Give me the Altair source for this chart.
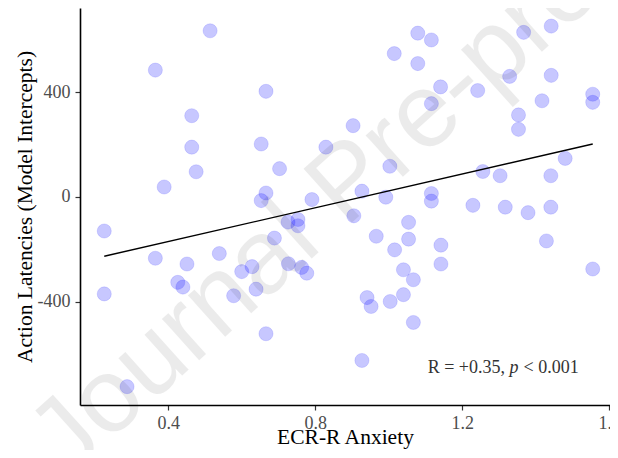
import altair as alt
import pandas as pd

# ECR-R Anxiety (x) and Action Latencies (Model Intercepts) (y)
anxiety = [0.226, 0.226, 0.288, 0.365, 0.389, 0.464, 0.464, 0.476, 0.514, 0.666,
           0.653, 0.703, 0.829, 0.666, 0.653, 0.791, 0.903, 1.079, 1.116, 1.015,
           1.079, 1.141, 1.116, 1.242, 1.003, 0.927, 0.992, 1.116, 1.116, 1.256,
           1.229, 1.367, 1.442, 1.329, 1.442, 1.555, 1.555, 1.417, 1.353, 1.353,
           1.480, 1.303, 1.441, 1.317, 1.379, 1.441, 1.429, 1.555, 0.905, 0.966,
           1.054, 1.016, 1.054, 1.142, 1.142, 1.040, 1.067, 0.941, 0.952, 1.004,
           1.040, 1.067, 0.927, 0.726, 0.753, 0.753, 0.689, 0.539, 0.600, 0.628,
           0.727, 0.763, 0.777, 0.578, 0.639, 0.666, 0.365, 0.451, 0.426, 0.440]
latency = [-130, -370, -724, 484, 38, 310, 190, 96, 634, 403,
           202, 108, 190, 15, -14, -10, 272, 625, 599, 547,
           509, 420, 356, 406, 117, 22, -1, 13, -16, 97,
           -32, 628, 652, 460, 464, 392, 361, 367, 313, 258,
           147, 81, 81, -39, -60, -39, -168, -275, -72, -150,
           -97, -202, -161, -184, -256, -278, -316, -384, -418, -399,
           -373, -479, -624, -96, -86, -110, -157, -216, -285, -266,
           -255, -269, -291, -377, -352, -522, -234, -256, -326, -344]

x_ticks = [0.4, 0.8, 1.2, 1.6]
y_ticks = [-400, 0, 400]
x_title = "ECR-R Anxiety"
y_title = "Action Latencies (Model Intercepts)"
annot_parts = ["R = +0.35,", "p", "< 0.001"]
watermark = ["Journal Pre-proof"]

df = pd.DataFrame({"anxiety": anxiety, "latency": latency})
one = pd.DataFrame({"k": [0]})

W, H = 530, 397
SERIF = "Liberation Serif"

xs = alt.Scale(domain=[0.160, 1.602], nice=False, zero=False)
ys = alt.Scale(domain=[-794, 721], nice=False, zero=False)

x_axis = alt.Axis(values=x_ticks, format=".1f", title=x_title, grid=False,
                  domainColor="black", domainWidth=1.6, tickColor="#333333",
                  tickWidth=1.2, tickSize=5, labelFont=SERIF, labelFontSize=18,
                  labelColor="#4d4d4d", labelPadding=18, labelBaseline="alphabetic",
                  labelFlush=False, labelOverlap=False, labelBound=False,
                  titleFont=SERIF, titleFontSize=21.5, titleFontWeight="normal",
                  titleColor="black", titleX=265, titleY=38, titleAlign="center",
                  titleBaseline="alphabetic")
y_axis = alt.Axis(values=y_ticks, labelExpr="datum.value + ''", title=y_title,
                  grid=False, domainColor="black", domainWidth=1.6,
                  tickColor="#333333", tickWidth=1.2, tickSize=5,
                  labelFont=SERIF, labelFontSize=18, labelColor="#4d4d4d",
                  labelPadding=5, labelFlush=False, labelOverlap=False,
                  titleFont=SERIF, titleFontSize=21.5, titleFontWeight="normal",
                  titleColor="black", titleX=-49, titleY=H / 2, titleAngle=270,
                  titleAlign="center", titleBaseline="alphabetic")

base = alt.Chart(df)
points = base.mark_circle(size=200, color="#0000ff", fillOpacity=0.22,
                          stroke="#0000ff", strokeOpacity=0.12, strokeWidth=1).encode(
    x=alt.X("anxiety:Q", scale=xs, axis=x_axis),
    y=alt.Y("latency:Q", scale=ys, axis=y_axis),
)
line = base.transform_regression("anxiety", "latency").mark_line(
    color="black", strokeWidth=1.4).encode(
    x=alt.X("anxiety:Q", scale=xs),
    y=alt.Y("latency:Q", scale=ys),
)

ax0 = 347.7
t1 = alt.Chart(one).mark_text(font=SERIF, fontSize=18, color="#333333",
                              align="left", baseline="alphabetic").encode(
    x=alt.value(ax0), y=alt.value(364.7), text=alt.value(annot_parts[0]))
t2 = alt.Chart(one).mark_text(font=SERIF, fontSize=18, color="#333333",
                              fontStyle="italic", align="left",
                              baseline="alphabetic").encode(
    x=alt.value(ax0 + 81.8), y=alt.value(364.7), text=alt.value(annot_parts[1]))
t3 = alt.Chart(one).mark_text(font=SERIF, fontSize=18, color="#333333",
                              align="left", baseline="alphabetic").encode(
    x=alt.value(ax0 + 95.8), y=alt.value(364.7), text=alt.value(annot_parts[2]))

wm = alt.Chart(one).mark_text(font="Liberation Sans", fontSize=105, color="black",
                              opacity=0.075, angle=318, align="center",
                              baseline="middle").encode(
    x=alt.value(268), y=alt.value(175), text=alt.value(watermark[0]))

chart = alt.layer(points, line, t1, t2, t3, wm).properties(
    width=W, height=H,
    autosize=alt.AutoSizeParams(type="none"),
    padding={"left": 72, "top": 0, "right": 0, "bottom": 45},
).configure_view(strokeWidth=0)

chart.save("out.html", embed_options={"renderer": "svg", "actions": False})
